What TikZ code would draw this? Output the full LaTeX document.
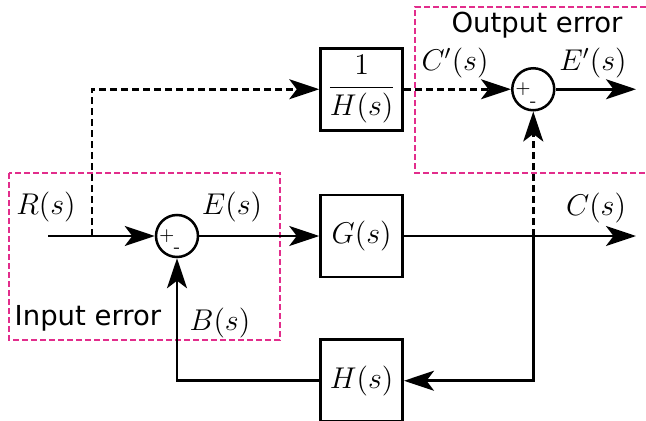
\documentclass[tikz,border=0pt]{standalone}
\usepackage{amsmath}
\usepackage{fontspec}
\newfontfamily\tagfont{DejaVu Sans}
\usepackage{tikz}
\usetikzlibrary{arrows.meta,positioning,calc}
\definecolor{regionpink}{RGB}{226,45,140}

\begin{document}
\begin{tikzpicture}[
  x=0.4pt,y=-0.4pt,
  block/.style={draw,line width=1.1pt,minimum width=32.8pt,minimum height=32.8pt,
    inner sep=0pt,font=\fontsize{12}{14}\selectfont},
  sum/.style={draw,circle,line width=1pt,minimum size=16.8pt,inner sep=0pt},
  sign/.style={font=\fontsize{7}{7}\selectfont,inner sep=0pt},
  arrow/.style={-{Stealth[length=12pt,width=8pt,inset=3pt]},line width=1.1pt},
  dashline/.style={dash pattern=on 2.8pt off 1.6pt},
  region/.style={draw=regionpink,line width=0.6pt,dash pattern=on 2.4pt off 1.2pt},
  lbl/.style={font=\fontsize{11.5}{14}\selectfont},
  tag/.style={font=\tagfont\fontsize{11}{13}\selectfont}
]
\useasboundingbox (0,0) rectangle (646,420);
% error regions
\draw[region] (9,173) rectangle (280,340);
\draw[region] (646,7) -| (415,173) -- (646,173);
\node[tag] (intag) at (88,318) {Input error};
\node[tag] (outtag) at (537,25) {Output error};
% blocks
\node[sum] (sumin) at (177,236) {};
\node[block,right=48pt of sumin] (gbox) {$G(s)$};
\node[block,above=24.8pt of gbox] (hinv) {$\dfrac{1}{H(s)}$};
\node[block,below=24pt of gbox] (hbox) {$H(s)$};
\node[sum,right=42.8pt of hinv] (sumout) {};
\node[sign,right=1.5pt] at (sumin.west) {+};
\node[sign,above=2pt] at (sumin.south) {-};
\node[sign,right=1.5pt] at (sumout.west) {+};
\node[sign,above=2pt] at (sumout.south) {-};
\coordinate (in) at (48,236);
\coordinate (branch) at (92,236);
\coordinate (out) at (636,236);
\coordinate (tap) at (sumout |- gbox);
% connectors
\draw[arrow] (in) -- (sumin);
\draw[arrow] (sumin) -- (gbox);
\draw[arrow] (gbox) -- (out);
\draw[arrow] (tap) |- (hbox);
\draw[arrow] (hbox) -| (sumin);
\draw[arrow,dashline] (branch) |- (hinv);
\draw[arrow,dashline] (hinv) -- (sumout);
\draw[arrow,dashline] (tap) -- (sumout);
\draw[arrow] (sumout) -- (sumout -| out);
% signal labels
\node[lbl] (rlbl) at (46,207) {$R(s)$};
\node[lbl] (elbl) at (232,207) {$E(s)$};
\node[lbl] (blbl) at (220,323) {$B(s)$};
\node[lbl] (clbl) at (596,208) {$C(s)$};
\node[lbl] (cplbl) at (455,63) {$C'(s)$};
\node[lbl] (eplbl) at (593,63) {$E'(s)$};
\end{tikzpicture}
\end{document}
